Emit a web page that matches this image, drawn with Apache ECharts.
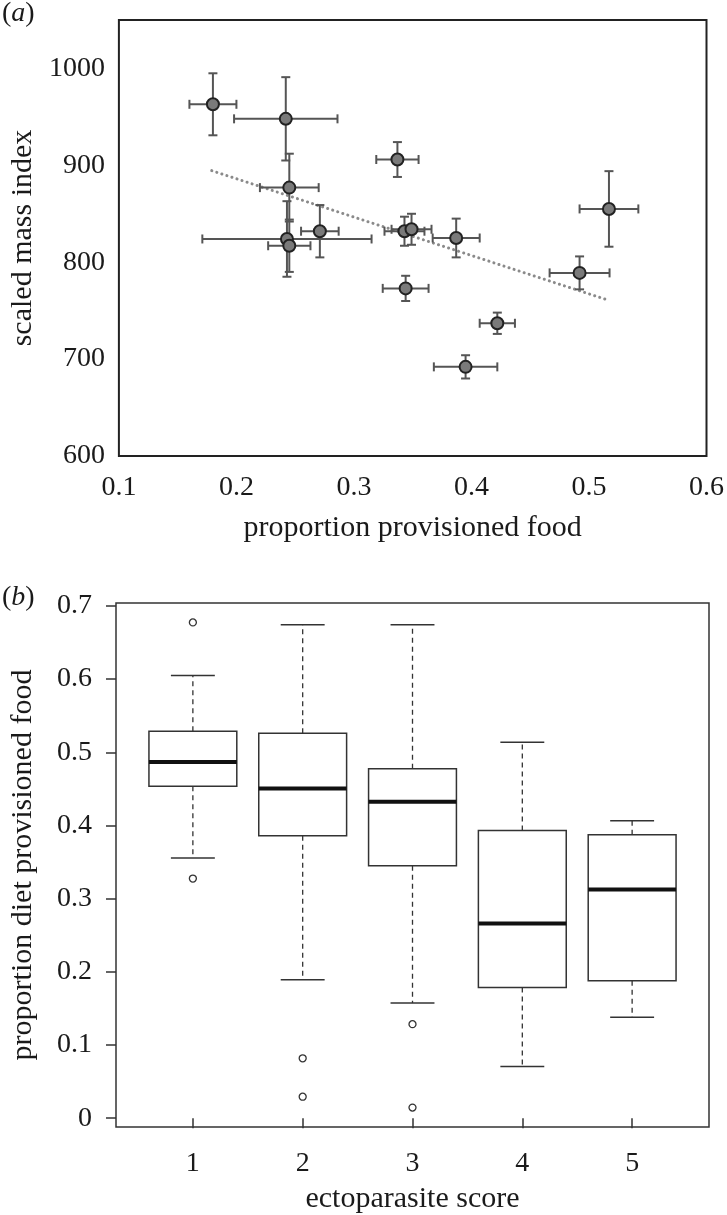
<!DOCTYPE html>
<html>
<head>
<meta charset="utf-8">
<script src="https://cdn.jsdelivr.net/npm/echarts@6/dist/echarts.min.js"></script>
<style>
html,body{margin:0;padding:0;background:#fff;}
#chart{width:727px;height:1215px;}
</style>
</head>
<body>
<div id="chart"></div>
<script>
// ---- Panel (a): scaled mass index vs proportion provisioned food ----
const aX    = [0.180, 0.242, 0.245, 0.271, 0.243, 0.245, 0.337, 0.343, 0.349, 0.387, 0.344, 0.395, 0.422, 0.492, 0.517];
const aY    = [963, 948, 877, 832, 824, 817, 906, 832, 834, 825, 773, 692, 737, 789, 855];
const aXErr = [0.020, 0.044, 0.025, 0.016, 0.072, 0.018, 0.018, 0.017, 0.017, 0.020, 0.0195, 0.027, 0.015, 0.0255, 0.025];
const aYErr = [32, 43, 35, 27, 39, 27, 18, 15, 16, 20, 13, 12, 11, 17, 39];
const trendX = [0.179, 0.517];
const trendY = [894.5, 760.6];
const aXTicks = [0.1, 0.2, 0.3, 0.4, 0.5, 0.6];
const aYTicks = [600, 700, 800, 900, 1000];

// ---- Panel (b): boxplots by ectoparasite score ----
const bCats   = [1, 2, 3, 4, 5];
const bLowW   = [0.3555, 0.1891, 0.1574, 0.0706, 0.1380];
const bQ1     = [0.4537, 0.3858, 0.3451, 0.1787, 0.1878];
const bMedian = [0.4866, 0.4504, 0.4324, 0.2659, 0.3126];
const bQ3     = [0.5287, 0.5260, 0.4776, 0.3930, 0.3872];
const bUpW    = [0.6051, 0.6743, 0.6743, 0.5138, 0.4066];
const bOutCat = [1, 1, 2, 2, 3, 3];
const bOutVal = [0.6775, 0.3275, 0.0819, 0.0294, 0.1285, 0.0145];
const bYTicks = [0, 0.1, 0.2, 0.3, 0.4, 0.5, 0.6, 0.7];

const FONT = "'Liberation Serif', 'Times New Roman', serif";
const TXT = '#1a1a1a';

const errData = aX.map((x, i) => [x, aY[i], aXErr[i], aYErr[i]]);
const ptData = aX.map((x, i) => [x, aY[i]]);
const boxData = bCats.map((c, i) => [c, bLowW[i], bQ1[i], bMedian[i], bQ3[i], bUpW[i]]);
const outData = bOutCat.map((c, i) => [c, bOutVal[i]]);

function renderErr(params, api) {
  const x = api.value(0), y = api.value(1), xe = api.value(2), ye = api.value(3);
  const l = api.coord([x - xe, y]), r = api.coord([x + xe, y]);
  const t = api.coord([x, y + ye]), b = api.coord([x, y - ye]);
  const cap = 4.5;
  const st = {stroke: '#555', lineWidth: 2};
  const ln = (x1, y1, x2, y2) => ({type: 'line', shape: {x1, y1, x2, y2}, style: st});
  return {type: 'group', children: [
    ln(l[0], l[1], r[0], r[1]),
    ln(t[0], t[1], b[0], b[1]),
    ln(l[0], l[1] - cap, l[0], l[1] + cap),
    ln(r[0], r[1] - cap, r[0], r[1] + cap),
    ln(t[0] - cap, t[1], t[0] + cap, t[1]),
    ln(b[0] - cap, b[1], b[0] + cap, b[1])
  ]};
}

function renderBox(params, api) {
  const c = api.value(0);
  const lw = api.value(1), q1 = api.value(2), md = api.value(3), q3 = api.value(4), uw = api.value(5);
  const half = api.size([0.8, 0])[0] / 2;
  const capHalf = half / 2;
  const pLw = api.coord([c, lw]), pQ1 = api.coord([c, q1]), pMd = api.coord([c, md]);
  const pQ3 = api.coord([c, q3]), pUw = api.coord([c, uw]);
  const cx = pMd[0];
  const solid = {stroke: '#333', lineWidth: 1.5};
  const dash = {stroke: '#333', lineWidth: 1.3, lineDash: [5, 4]};
  return {type: 'group', children: [
    {type: 'line', shape: {x1: cx, y1: pQ3[1], x2: cx, y2: pUw[1]}, style: dash},
    {type: 'line', shape: {x1: cx, y1: pQ1[1], x2: cx, y2: pLw[1]}, style: dash},
    {type: 'line', shape: {x1: cx - capHalf, y1: pUw[1], x2: cx + capHalf, y2: pUw[1]}, style: solid},
    {type: 'line', shape: {x1: cx - capHalf, y1: pLw[1], x2: cx + capHalf, y2: pLw[1]}, style: solid},
    {type: 'rect', shape: {x: cx - half, y: pQ3[1], width: 2 * half, height: pQ1[1] - pQ3[1]},
      style: {fill: '#fff', stroke: '#333', lineWidth: 1.5}},
    {type: 'line', shape: {x1: cx - half, y1: pMd[1], x2: cx + half, y2: pMd[1]},
      style: {stroke: '#111', lineWidth: 4}}
  ]};
}

const labelStyle = {fontFamily: FONT, fontSize: 28, color: TXT};
const nameStyle = {fontFamily: FONT, fontSize: 30, color: TXT};

const option = {
  animation: false,
  backgroundColor: '#fff',
  grid: [
    {left: 114, top: 20, width: 599, height: 436, show: true, borderColor: '#222', borderWidth: 2, backgroundColor: 'transparent'},
    {left: 114, top: 603, width: 595, height: 529, show: true, borderColor: '#333', borderWidth: 1.5, backgroundColor: 'transparent'}
  ],
  xAxis: [
    {type: 'value', gridIndex: 0, min: 0.1, max: 0.6, interval: 0.1,
      axisLine: {show: false}, axisTick: {show: false}, splitLine: {show: false},
      axisLabel: Object.assign({customValues: aXTicks, formatter: v => v.toFixed(1), margin: 18}, labelStyle),
      name: 'proportion provisioned food', nameLocation: 'middle', nameGap: 57, nameTextStyle: nameStyle},
    {type: 'value', gridIndex: 1, min: 0.3, max: 5.7,
      axisLine: {show: false}, splitLine: {show: false},
      axisTick: {show: true, customValues: bCats, length: 10, inside: false, lineStyle: {color: '#333', width: 1.5}},
      axisLabel: Object.assign({customValues: bCats, formatter: v => String(v), margin: 23}, labelStyle),
      name: 'ectoparasite score', nameLocation: 'middle', nameGap: 57, nameTextStyle: nameStyle}
  ],
  yAxis: [
    {type: 'value', gridIndex: 0, min: 600, max: 1050, interval: 100,
      axisLine: {show: false}, axisTick: {show: false}, splitLine: {show: false},
      axisLabel: Object.assign({customValues: aYTicks, formatter: v => String(v), margin: 14}, labelStyle),
      name: 'scaled mass index', nameLocation: 'middle', nameGap: 80, nameTextStyle: nameStyle},
    {type: 'value', gridIndex: 1, min: -0.012, max: 0.704,
      axisLine: {show: false}, splitLine: {show: false},
      axisTick: {show: true, customValues: bYTicks, length: 10, inside: false, lineStyle: {color: '#333', width: 1.5}},
      axisLabel: Object.assign({customValues: bYTicks, formatter: v => (v === 0 ? '0' : v.toFixed(1)), margin: 24}, labelStyle),
      name: 'proportion diet provisioned food', nameLocation: 'middle', nameGap: 78, nameTextStyle: nameStyle}
  ],
  graphic: [
    {type: 'text', left: 2, top: 0, style: {text: '{p|(}{i|a}{p|)}', rich: {
      p: {fontFamily: FONT, fontSize: 28, fill: TXT}, i: {fontFamily: FONT, fontSize: 28, fontStyle: 'italic', fill: TXT}}}},
    {type: 'text', left: 2, top: 584, style: {text: '{p|(}{i|b}{p|)}', rich: {
      p: {fontFamily: FONT, fontSize: 28, fill: TXT}, i: {fontFamily: FONT, fontSize: 28, fontStyle: 'italic', fill: TXT}}}}
  ],
  series: [
    {type: 'line', xAxisIndex: 0, yAxisIndex: 0, data: trendX.map((x, i) => [x, trendY[i]]),
      symbol: 'none', lineStyle: {color: '#8a8a8a', width: 3, type: [0.1, 5.2], cap: 'round'}, z: 1, silent: true},
    {type: 'custom', xAxisIndex: 0, yAxisIndex: 0, data: errData, renderItem: renderErr,
      encode: {x: 0, y: 1}, z: 2, silent: true},
    {type: 'scatter', xAxisIndex: 0, yAxisIndex: 0, data: ptData, symbol: 'circle', symbolSize: 12,
      itemStyle: {color: '#7a7a7a', borderColor: '#222', borderWidth: 2, opacity: 1}, z: 3, silent: true},
    {type: 'custom', xAxisIndex: 1, yAxisIndex: 1, data: boxData, renderItem: renderBox,
      encode: {x: 0, y: [1, 2, 3, 4, 5]}, z: 2, silent: true},
    {type: 'scatter', xAxisIndex: 1, yAxisIndex: 1, data: outData, symbol: 'circle', symbolSize: 7,
      itemStyle: {color: '#fff', borderColor: '#333', borderWidth: 1.3, opacity: 1}, z: 3, silent: true}
  ]
};

const chart = echarts.init(document.getElementById('chart'), null, {renderer: 'canvas'});
chart.setOption(option);
</script>
</body>
</html>
